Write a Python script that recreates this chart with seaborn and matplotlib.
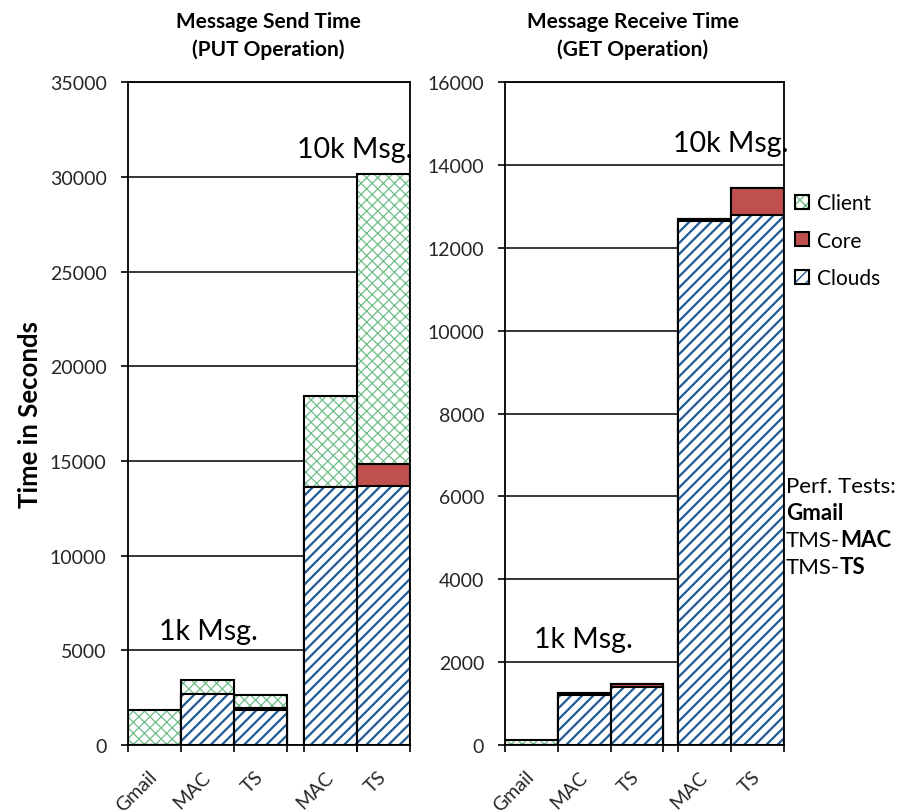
import numpy as np
import pandas as pd
import matplotlib
matplotlib.use("Agg")
import matplotlib.pyplot as plt
import seaborn as sns
from matplotlib.patches import Patch

# ---- data -------------------------------------------------------------
tests = ["Gmail", "MAC", "TS", "MAC", "TS"]
batch = ["1k", "1k", "1k", "10k", "10k"]

# Message send time (PUT), seconds
put_client = [1850, 700, 700, 4850, 15320]
put_core = [0, 30, 90, 0, 1150]
put_clouds = [0, 2680, 1860, 13600, 13700]

# Message receive time (GET), seconds
get_client = [130, 0, 0, 0, 0]
get_core = [0, 45, 85, 40, 650]
get_clouds = [0, 1200, 1395, 12650, 12790]

series_labels = ["Client", "Core", "Clouds"]

# ---- styles -----------------------------------------------------------
GREEN = "#6fbd88"
RED = "#c0504d"
BLUE = "#1f5b95"

sns.set_style("white")
plt.rcParams["font.family"] = ["Lato", "DejaVu Sans"]
plt.rcParams["text.color"] = "black"

fig = plt.figure(figsize=(9.0, 8.12), dpi=100)
W, H = 900.0, 812.0


def fig_axes(x0, x1, ytop, ybot):
    return fig.add_axes([x0 / W, 1 - ybot / H, (x1 - x0) / W, (ybot - ytop) / H])


ax_put = fig_axes(127.5, 410, 83.3, 746)
ax_get = fig_axes(505, 784, 83.3, 746)


def style_bars(ax, start, face, edge, hatch, lw, hatch_lw, z):
    for p in ax.patches[start:]:
        p.set_facecolor(face)
        p.set_edgecolor(edge)
        p.set_hatch(hatch)
        p.set_linewidth(lw)
        p.set_zorder(z)
        if hatch and hasattr(p, "set_hatch_linewidth"):
            p.set_hatch_linewidth(hatch_lw)


def draw_panel(ax, client, core, clouds, gap, ymax, ystep):
    pos = np.arange(len(tests), dtype=float) + gap * (np.array(batch) == "10k")
    client, core, clouds = map(np.asarray, (client, core, clouds))
    df = pd.DataFrame({
        "pos": pos,
        "clouds": clouds,
        "core_top": clouds + core,
        "total": clouds + core + client,
    })
    layers = [
        ("total", "white", GREEN, "xxx", 0.9),
        ("core_top", RED, RED, None, 1.0),
        ("clouds", "white", BLUE, "///", 1.6),
    ]
    z = 2
    for col, face, hcol, hatch, hlw in layers:
        with plt.rc_context({"hatch.linewidth": hlw}):
            n0 = len(ax.patches)
            sns.barplot(data=df, x="pos", y=col, native_scale=True, width=1.0,
                        errorbar=None, color="white", linewidth=0, ax=ax)
            style_bars(ax, n0, face, hcol, hatch, 0, hlw, z)
        n0 = len(ax.patches)
        sns.barplot(data=df, x="pos", y=col, native_scale=True, width=1.0,
                    errorbar=None, fill=False, linewidth=1.5, ax=ax)
        style_bars(ax, n0, "none", "black", None, 1.5, 0, z + 0.5)
        z += 1

    # category axis: ticks between bars, labels under bar centres
    edges = sorted(set(list(pos - 0.5) + list(pos + 0.5)))
    ax.set_xlim(pos[0] - 0.5, pos[-1] + 0.5)
    ax.set_xticks(edges)
    ax.set_xticklabels([])
    ax.set_xticks(pos, minor=True)
    ax.set_xticklabels(tests, minor=True)
    ax.tick_params(axis="x", which="major", direction="out", length=5,
                   width=1.2, color="black", bottom=True)
    ax.tick_params(axis="x", which="minor", length=0, pad=20.5, labelsize=14,
                   labelrotation=45, bottom=True)
    for lbl in ax.get_xticklabels(minor=True):
        lbl.set_ha("right")
        lbl.set_va("center")
        lbl.set_rotation_mode("anchor")

    ax.set_ylim(0, ymax)
    ax.set_yticks(np.arange(0, ymax + 1, ystep))
    ax.tick_params(axis="y", direction="out", length=5, width=1.2,
                   color="black", pad=10, labelsize=14, left=True)
    ax.yaxis.grid(True, color="black", linewidth=1.1)
    ax.xaxis.grid(False)
    ax.set_axisbelow(True)
    for sp in ax.spines.values():
        sp.set_visible(True)
        sp.set_color("black")
        sp.set_linewidth(1.3)
        sp.set_zorder(10)
    ax.set_xlabel("")
    ax.set_ylabel("")


draw_panel(ax_put, put_client, put_core, put_clouds, 0.32, 35000, 5000)
draw_panel(ax_get, get_client, get_core, get_clouds, 0.285, 16000, 2000)

# batch-size annotations
ax_put.text(0.285, 0.172, "1k Msg.", transform=ax_put.transAxes,
            ha="center", va="center", fontsize=20.5, zorder=20)
ax_put.text(0.805, 0.90, "10k Msg.", transform=ax_put.transAxes,
            ha="center", va="center", fontsize=20.5, zorder=20)
ax_get.text(0.28, 0.16, "1k Msg.", transform=ax_get.transAxes,
            ha="center", va="center", fontsize=20.5, zorder=20)
ax_get.text(0.81, 0.908, "10k Msg.", transform=ax_get.transAxes,
            ha="center", va="center", fontsize=20.5, zorder=20)

# titles and axis label
for xc, l1, l2 in [(268, "Message Send Time", "(PUT Operation)"),
                   (633, "Message Receive Time", "(GET Operation)")]:
    fig.text(xc / W, 1 - 22 / H, l1, ha="center", va="center",
             fontsize=15, fontweight="bold")
    fig.text(xc / W, 1 - 50 / H, l2, ha="center", va="center",
             fontsize=15, fontweight="bold")
fig.text(30 / W, 1 - 415 / H, "Time in Seconds", rotation=90, ha="center",
         va="center", fontsize=18.5, fontweight="bold")

# legend
with plt.rc_context({"hatch.linewidth": 0.9}):
    h_client = (Patch(facecolor="white", edgecolor=GREEN, hatch="xxx", linewidth=0),
                Patch(facecolor="none", edgecolor="black", linewidth=1.5))
with plt.rc_context({"hatch.linewidth": 1.6}):
    h_clouds = (Patch(facecolor="white", edgecolor=BLUE, hatch="///", linewidth=0),
                Patch(facecolor="none", edgecolor="black", linewidth=1.5))
h_core = Patch(facecolor=RED, edgecolor="black", linewidth=1.5)
fig.legend(handles=[h_client, h_core, h_clouds], labels=series_labels,
           loc="upper left", bbox_to_anchor=(795 / W, 1 - 194 / H),
           frameon=False, fontsize=15, handlelength=0.65, handleheight=0.65,
           handletextpad=0.4, labelspacing=0.85, borderpad=0, borderaxespad=0)

# test legend text
x_txt = 786 / W
fig.text(x_txt, 1 - 487 / H, "Perf. Tests:", va="center", ha="left", fontsize=16)
fig.text(x_txt, 1 - 514 / H, "Gmail", va="center", ha="left", fontsize=16,
         fontweight="bold")
for yy, name in [(541, "MAC"), (568, "TS")]:
    t = fig.text(x_txt, 1 - yy / H, "TMS-", va="center", ha="left", fontsize=16)
    ax_get.annotate(name, xy=(1, 0), xycoords=t, xytext=(0, 0),
                    textcoords="offset points", va="bottom", ha="left",
                    fontsize=16, fontweight="bold", annotation_clip=False)

fig.savefig("out.png", dpi=100)
